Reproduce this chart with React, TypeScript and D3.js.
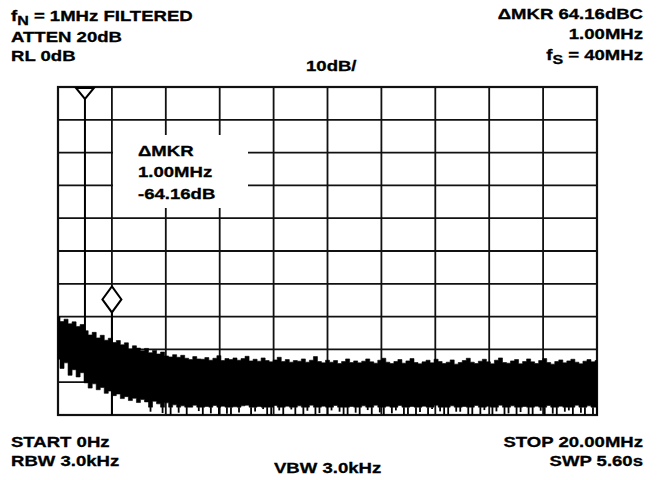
import React from "react";
import * as d3 from "d3";

// Spectrum trace: peak (upper) and minimum (lower) of each sweep bin, in dB, 0–20 MHz
const upperDb: number[] = [
  -70.1, -71.5, -70.8, -72.2, -71.6, -73.0, -72.4, -74.3, -75.6, -74.8, -76.5, -75.7, -77.2, -76.6, -77.9,
  -77.3, -78.6, -78.0, -79.9, -78.9, -79.6, -80.4, -79.7, -81.0, -80.3, -81.4, -80.8, -82.0, -82.3, -81.6,
  -82.4, -81.8, -82.7, -83.1, -82.2, -82.9, -83.0, -82.5, -83.3, -82.7, -81.9, -83.4, -82.8, -83.1, -82.6,
  -83.3, -82.8, -82.1, -83.5, -83.0, -83.6, -82.6, -83.4, -83.8, -83.2, -82.4, -83.7, -83.1, -83.9, -83.4,
  -83.6, -82.9, -83.9, -83.3, -82.2, -83.7, -84.1, -83.3, -83.9, -83.4, -84.3, -83.7, -82.9, -84.0, -83.5,
  -84.1, -83.6, -82.9, -83.8, -84.2, -83.3, -82.7, -83.9, -84.3, -83.7, -83.1, -84.2, -83.5, -82.8, -84.0,
  -84.4, -83.8, -83.3, -84.1, -83.0, -83.7, -84.3, -83.9, -83.2, -84.5, -84.0, -83.4, -82.7, -83.9, -84.3,
  -83.6, -83.0, -83.8, -84.4, -83.3, -82.6, -84.0, -84.2, -83.5, -83.1, -84.4, -83.7, -82.9, -83.8, -84.3,
  -83.4, -82.8, -84.0, -84.5, -83.7, -83.2, -84.1, -83.5, -83.0, -83.9, -84.4, -83.6, -83.1, -83.8, -83.4,
];

const lowerDb: number[] = [
  -83.0, -85.8, -84.1, -87.9, -86.2, -88.4, -87.1, -90.2, -91.8, -90.5, -92.3, -91.6, -93.4, -92.7, -94.1,
  -93.6, -95.0, -94.4, -95.6, -94.9, -96.2, -95.3, -96.0, -99.0, -95.8, -96.6, -99.4, -96.3, -100, -96.9,
  -99.3, -97.2, -100, -97.6, -97.0, -98.8, -100, -97.4, -99.5, -97.1, -100, -97.3, -99.6, -100, -97.5,
  -99.2, -97.2, -97.0, -100, -98.9, -97.4, -98.2, -100, -100, -97.1, -98.6, -100, -97.3, -98.3, -100,
  -97.2, -99.9, -98.7, -97.0, -100, -99.4, -97.3, -100, -98.6, -97.1, -99.0, -100, -100, -97.4, -99.3,
  -100, -97.2, -98.5, -100, -97.0, -99.2, -100, -97.3, -99.5, -98.6, -97.1, -100, -99.7, -97.4, -100,
  -99.1, -97.3, -100, -98.2, -97.0, -98.9, -100, -100, -97.2, -99.0, -99.0, -97.4, -100, -100, -97.1,
  -99.7, -98.5, -97.3, -100, -98.9, -97.0, -100, -99.5, -97.2, -100, -99.1, -97.4, -100, -100, -97.3,
  -98.7, -100, -97.1, -99.6, -100, -97.3, -99.0, -98.6, -100, -97.0, -99.3, -100, -97.2, -99.7, -100,
];

const startMHz = 0;
const stopMHz = 20;
const refDb = 0;
const bottomDb = -100;
const solidFloorDb = -97.6; // below this the trace shows only single-sample dips
const xTicks = [0, 2, 4, 6, 8, 10, 12, 14, 16, 18, 20];
const yTicks = [0, -10, -20, -30, -40, -50, -60, -70, -80, -90, -100];

// Spectral lines: carrier (reference marker) and 2nd harmonic (delta marker)
const carrier = { f: 1.0, peak: 0, floor: -90 };
const spur = { f: 2.0, peak: -64.16, floor: -100 };

const headerLeft = ["ATTEN 20dB", "RL 0dB"];
const footerLeft = ["START 0Hz", "RBW 3.0kHz"];
const footerRight = ["STOP 20.00MHz", "SWP 5.60s"];
const boxLines = ["\u0394MKR", "1.00MHz", "-64.16dB"];

const W = 658;
const H = 480;
const font = "'Liberation Sans', Arial, Helvetica, sans-serif";
const STRETCH = 1.28;

const textStyle: React.CSSProperties = {
  fontFamily: font,
  fontWeight: "bold",
  fontSize: 14.5,
  fill: "#000",
  stroke: "#000",
  strokeWidth: 0.3,
};

function T({
  x,
  y,
  anchor = "start",
  children,
}: {
  x: number;
  y: number;
  anchor?: "start" | "middle" | "end";
  children: React.ReactNode;
}) {
  return (
    <text
      transform={`translate(${x},${y}) scale(${STRETCH},1)`}
      textAnchor={anchor}
      style={textStyle}
    >
      {children}
    </text>
  );
}

export default function App() {
  const x = d3.scaleLinear().domain([startMHz, stopMHz]).range([58, 597]);
  const y = d3.scaleLinear().domain([refDb, bottomDb]).range([87, 415]);

  const n = upperDb.length;
  const bins = upperDb.map((u, i) => ({
    f: startMHz + (i * (stopMHz - startMHz)) / (n - 1),
    hi: u,
    lo: lowerDb[i],
  }));

  const area = d3
    .area<{ f: number; hi: number; lo: number }>()
    .x((d) => x(d.f))
    .y0((d) => y(Math.max(d.lo, solidFloorDb)))
    .y1((d) => y(d.hi))
    .curve(d3.curveStep);

  const cx = x(carrier.f);
  const sx = x(spur.f);
  const sy = y(spur.peak) + 2;

  return (
    <svg
      width={W}
      height={H}
      style={{ position: "absolute", left: 0, top: 0, background: "#fff" }}
    >
      <rect x={0} y={0} width={W} height={H} fill="#fff" />
      {/* grid */}
      <g stroke="#111" strokeWidth={1.8}>
        {xTicks.map((t) => (
          <line key={"x" + t} x1={x(t)} x2={x(t)} y1={y(refDb)} y2={y(bottomDb)} />
        ))}
        {yTicks.map((t) => (
          <line key={"y" + t} x1={x(startMHz)} x2={x(stopMHz)} y1={y(t)} y2={y(t)} />
        ))}
      </g>
      <rect
        x={x(startMHz)}
        y={y(refDb)}
        width={x(stopMHz) - x(startMHz)}
        height={y(bottomDb) - y(refDb)}
        fill="none"
        stroke="#111"
        strokeWidth={2.2}
      />

      {/* annotation box */}
      <rect x={113} y={135} width={135} height={73} fill="#fff" />
      {boxLines.map((t, i) => (
        <T key={t} x={138} y={156 + i * 21.3}>
          {t}
        </T>
      ))}

      {/* trace */}
      <path d={area(bins) || ""} fill="#000" stroke="#000" strokeWidth={0.6} />
      <g stroke="#000" strokeWidth={1.8}>
        {bins
          .filter((d) => d.lo < solidFloorDb)
          .map((d, i) => (
            <line key={i} x1={x(d.f)} x2={x(d.f)} y1={y(solidFloorDb)} y2={y(d.lo)} />
          ))}
      </g>
      <line x1={cx} x2={cx} y1={y(carrier.peak)} y2={y(carrier.floor)} stroke="#000" strokeWidth={2} />
      <line x1={sx} x2={sx} y1={y(spur.peak)} y2={y(spur.floor)} stroke="#000" strokeWidth={2} />

      {/* markers */}
      <path
        d={`M${cx - 9},${y(carrier.peak) + 1}L${cx + 9},${y(carrier.peak) + 1}L${cx},${y(carrier.peak) + 12}Z`}
        fill="#fff"
        stroke="#000"
        strokeWidth={2}
      />
      <path
        d={`M${sx},${sy - 13}L${sx + 9.5},${sy}L${sx},${sy + 13}L${sx - 9.5},${sy}Z`}
        fill="#fff"
        stroke="#000"
        strokeWidth={2}
      />

      {/* header */}
      <T x={11} y={20.5}>
        f<tspan fontSize={12.5} dy={4}>N</tspan>
        <tspan dy={-4}> = 1MHz FILTERED</tspan>
      </T>
      {headerLeft.map((t, i) => (
        <T key={t} x={11} y={41.5 + i * 19.2}>
          {t}
        </T>
      ))}
      <T x={306} y={71}>
        10dB/
      </T>
      <T x={643} y={18.5} anchor="end">
        {"\u0394MKR 64.16dBC"}
      </T>
      <T x={643} y={38.5} anchor="end">
        1.00MHz
      </T>
      <T x={643} y={59.5} anchor="end">
        f<tspan fontSize={12.5} dy={4}>S</tspan>
        <tspan dy={-4}> = 40MHz</tspan>
      </T>

      {/* footer */}
      {footerLeft.map((t, i) => (
        <T key={t} x={11} y={447 + i * 18.5}>
          {t}
        </T>
      ))}
      {footerRight.map((t, i) => (
        <T key={t} x={643} y={447 + i * 18.5} anchor="end">
          {t}
        </T>
      ))}
      <T x={274} y={472.5}>
        VBW 3.0kHz
      </T>
    </svg>
  );
}
